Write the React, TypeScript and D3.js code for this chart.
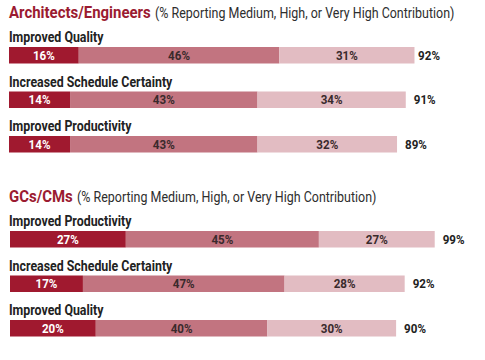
import React from "react";
import * as d3 from "d3";

const groupTitles = ["Architects/Engineers", "GCs/CMs"];
const groupSubtitle = "(% Reporting Medium, High, or Very High Contribution)";
const aeCategories = ["Improved Quality", "Increased Schedule Certainty", "Improved Productivity"];
const aeMedium = [16, 14, 14];
const aeHigh = [46, 43, 43];
const aeVeryHigh = [31, 34, 32];
const aeTotal = [92, 91, 89];
const gcCategories = ["Improved Productivity", "Increased Schedule Certainty", "Improved Quality"];
const gcMedium = [27, 17, 20];
const gcHigh = [45, 47, 40];
const gcVeryHigh = [27, 28, 30];
const gcTotal = [99, 92, 90];

const colors = ["#a0192f", "#c27480", "#e2bcc2"];
const textColors = ["#ffffff", "#3a2a2c", "#3a2a2c"];
const FONT = "Roboto, sans-serif";

export default function App() {
  const width = 485, height = 360;
  const xAE = d3.scaleLinear().domain([0, 100]).range([9, 9 + 436]);
  const xGC = d3.scaleLinear().domain([0, 100]).range([10, 10 + 429]);
  const groups = [
    { title: groupTitles[0], cats: aeCategories, vals: [aeMedium, aeHigh, aeVeryHigh], tot: aeTotal, top: 0, x: xAE },
    { title: groupTitles[1], cats: gcCategories, vals: [gcMedium, gcHigh, gcVeryHigh], tot: gcTotal, top: 184, x: xGC },
  ];
  const rowY = d3.scaleLinear().domain([0, 1]).range([47, 91.5]);
  const cond = "scale(0.86,1)";
  return (
    <svg width={width} height={height} style={{ position: "absolute", left: 0, top: 0, background: "#fff" }}>
      {groups.map((g, gi) => {
        const x = g.x;
        return (
          <g key={gi} transform={`translate(0,${g.top})`}>
            <text transform={`translate(9,18) ${cond}`} fontFamily={FONT} fontWeight={700} fontSize={17.4} fill="#9b1b31">
              {g.title}
              <tspan fontWeight={400} fontSize={14.5} fill="#2e2e2e" dx={5}>{groupSubtitle}</tspan>
            </text>
            {g.cats.map((c, i) => {
              const y0 = rowY(i);
              const stack = d3.stack<number>().keys(["0", "1", "2"]).value((d, k) => g.vals[+k][d])([i]);
              return (
                <g key={i}>
                  <text transform={`translate(9,${y0 - 5}) ${cond}`} fontFamily={FONT} fontWeight={700} fontSize={14.4} fill="#222">{c}</text>
                  {stack.map((s, k) => {
                    const [a, b] = s[0];
                    return (
                      <g key={k}>
                        <rect x={x(a)} y={y0} width={x(b) - x(a)} height={16.5} fill={colors[k]} />
                        <text transform={`translate(${(x(a) + x(b)) / 2},${y0 + 12.7}) ${cond}`} textAnchor="middle" fontFamily={FONT} fontWeight={700} fontSize={13.5} fill={textColors[k]}>{g.vals[k][i]}%</text>
                      </g>
                    );
                  })}
                  <text transform={`translate(${x(g.tot[i]) + 8},${y0 + 12.7}) ${cond}`} fontFamily={FONT} fontWeight={700} fontSize={13.5} fill="#222">{g.tot[i]}%</text>
                </g>
              );
            })}
          </g>
        );
      })}
    </svg>
  );
}
